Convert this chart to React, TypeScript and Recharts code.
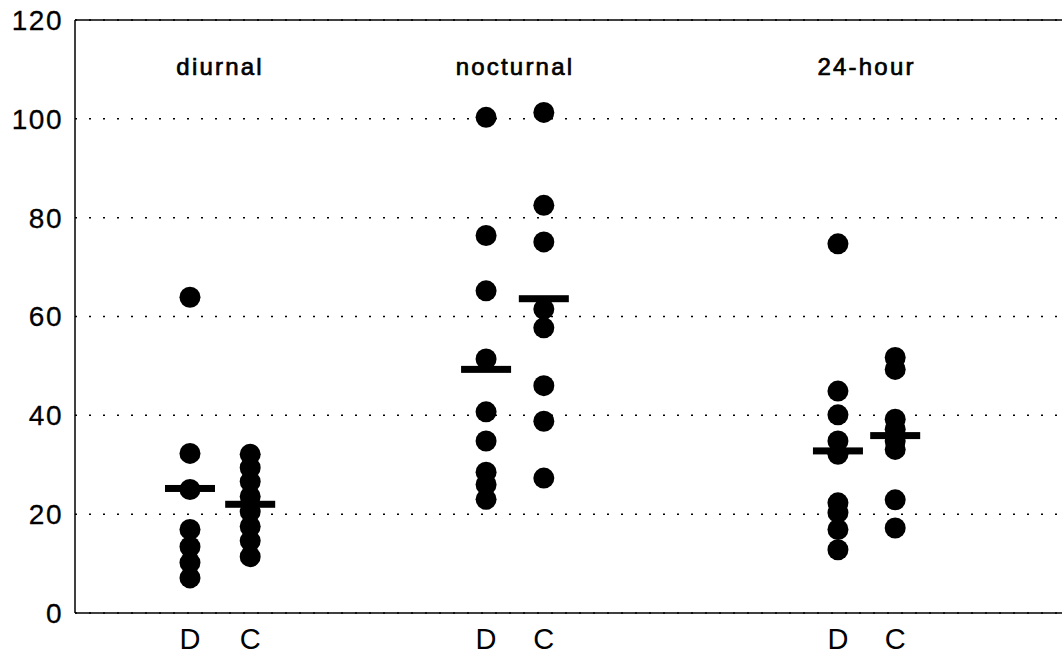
import React from 'react';
import {
  ScatterChart, Scatter, XAxis, YAxis, CartesianGrid, ReferenceLine, ReferenceDot,
} from 'recharts';

// groups and the two columns (D, C) in each
const groupNames = ['diurnal', 'nocturnal', '24-hour'];
const columnLabels = ['D', 'C', 'D', 'C', 'D', 'C'];
const columnX = [2.33, 3.55, 8.33, 9.5, 15.46, 16.62];
const yTicks = [0, 20, 40, 60, 80, 100, 120];

// individual values
const diurnalD = [63.9, 32.3, 25.0, 16.9, 13.4, 10.2, 7.1];
const diurnalC = [32.1, 29.4, 26.6, 23.6, 20.5, 17.5, 14.6, 11.4];
const nocturnalD = [100.3, 76.4, 65.2, 51.4, 40.7, 34.8, 28.5, 26.0, 23.0];
const nocturnalC = [101.3, 82.5, 75.1, 61.5, 57.7, 46.0, 38.8, 27.3];
const dayD = [74.7, 44.9, 40.1, 34.8, 32.1, 22.3, 20.3, 16.9, 12.8];
const dayC = [51.7, 49.3, 39.2, 37.2, 34.8, 33.1, 22.9, 17.2];

// group means (horizontal bars)
const means = [25.2, 22.0, 49.3, 63.6, 32.8, 35.9];

const columns = [diurnalD, diurnalC, nocturnalD, nocturnalC, dayD, dayC];

const points = columns.flatMap((vals, i) => vals.map((v) => ({ x: columnX[i], y: v })));
const meanPoints = means.map((m, i) => ({ x: columnX[i], y: m }));
const labelFor = (x: number) => {
  const i = columnX.indexOf(x);
  return i >= 0 ? columnLabels[i] : '';
};

const Dot = (props: any) => <circle cx={props.cx} cy={props.cy} r={10.5} fill="#000" />;
const MeanBar = (props: any) => (
  <rect x={props.cx - 25} y={props.cy - 3.5} width={50} height={7} fill="#000" />
);

const font = "'Liberation Sans', Arial, Helvetica, sans-serif";

export default function App() {
  return (
    <div style={{ position: 'absolute', left: 0, top: 0, background: '#fff' }}>
      <ScatterChart width={1062} height={655} margin={{ top: 20, right: 0, bottom: 0, left: 0 }}>
        <CartesianGrid vertical={false} stroke="#000" strokeWidth={1.5} strokeDasharray="2 12" />
        <XAxis
          type="number"
          dataKey="x"
          domain={[0, 20]}
          ticks={columnX}
          tickFormatter={labelFor}
          height={42}
          tickLine={false}
          tickMargin={9}
          axisLine={{ stroke: '#000', strokeWidth: 1.5 }}
          tick={{ fill: '#000', fontSize: 29, fontFamily: "'Liberation Sans Narrow', " + font }}
          interval={0}
        />
        <YAxis
          type="number"
          dataKey="y"
          domain={[0, 120]}
          ticks={yTicks}
          width={75}
          tickLine={false}
          tickMargin={6}
          axisLine={{ stroke: '#000', strokeWidth: 1.5 }}
          tick={{ fill: '#000', fontSize: 28, fontFamily: font, letterSpacing: 1.5, stroke: '#000', strokeWidth: 0.3 }}
        />
        <ReferenceLine y={120} stroke="#000" strokeWidth={1.5} />
        {groupNames.map((g, i) => (
          <ReferenceDot
            key={g}
            x={(columnX[i * 2] + columnX[i * 2 + 1]) / 2}
            y={110.5}
            r={0}
            stroke="none"
            label={{
              value: g,
              position: 'center',
              fill: '#000',
              fontSize: 24,
              fontFamily: font,
              letterSpacing: 2.2,
              stroke: '#000',
              strokeWidth: 0.7,
            }}
          />
        ))}
        <Scatter data={points} shape={Dot} isAnimationActive={false} />
        <Scatter data={meanPoints} shape={MeanBar} isAnimationActive={false} />
      </ScatterChart>
    </div>
  );
}
